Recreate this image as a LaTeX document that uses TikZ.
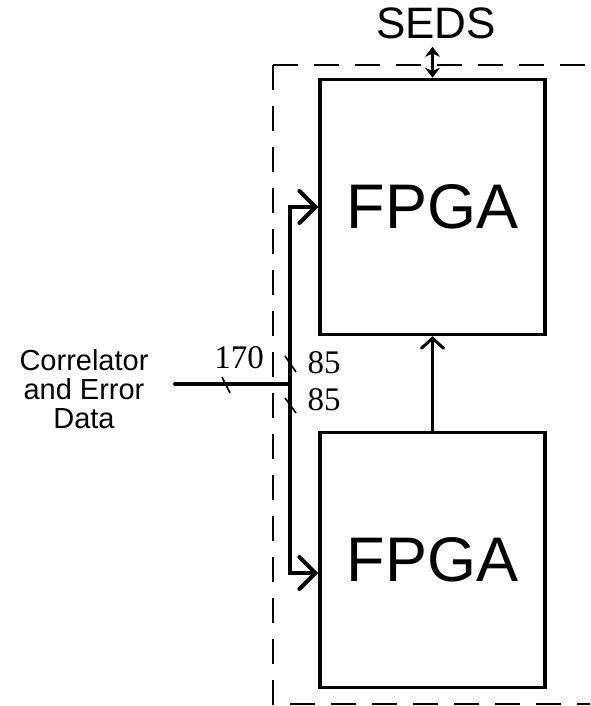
\documentclass[tikz,border=0pt]{standalone}
\usepackage{fontspec}
\setmainfont{Liberation Sans}
\newfontfamily\numfont{Liberation Serif}
\usetikzlibrary{arrows.meta}

\begin{document}
\begin{tikzpicture}[x=1pt, y=-1pt, >=Stealth,
    fpga/.style={draw, line width=3.5pt, minimum width=225pt, minimum height=255pt,
      inner sep=0pt, font=\fontsize{63}{70}\selectfont},
    boardline/.style={line width=2.8pt, dash pattern=on 25pt off 16pt},
    bus/.style={line width=4pt},
    busarrow/.style={bus, -{Straight Barb[length=16pt, width=32pt, line cap=round]}},
    tick/.style={line width=1.6pt},
    buswidth/.style={font=\numfont\fontsize{33}{35}\selectfont, inner sep=0pt}]
  \useasboundingbox (0,0) rectangle (590,706);

  \node[fpga] (fpgaTop) at (432.5,207) {FPGA};
  \node[fpga] (fpgaBot) at (432.5,560) {FPGA};
  \node[font=\fontsize{44}{48}\selectfont, inner xsep=0pt, inner ysep=8pt] (seds) at (436,23) {SEDS};
  \node[font=\fontsize{29}{29}\selectfont, align=center, inner sep=0pt, anchor=north] (input)
    at (84,349) {Correlator\\and Error\\Data};

  % dashed board outline
  \draw[boardline] (273,65) -- (590,65);
  \draw[boardline] (273,65) -- (273,704) -- (590,704);

  \coordinate (in) at (175,384);
  \coordinate (split) at (290,384);
  \coordinate (busTop) at (290,207);
  \coordinate (busBot) at (290,573);

  % data bus
  \draw[bus, line cap=round] (in) -- (split);
  \draw[busarrow] (split) -- (busTop) -- (busTop -| fpgaTop.west);
  \draw[busarrow] (split) -- (busBot) -- (busBot -| fpgaBot.west);
  \draw[tick] (222,377) -- (230,393);
  \draw[tick] (285,356) -- (296,372);
  \draw[tick] (285,398) -- (296,413);
  \node[buswidth] (w170) at (239,358) {170};
  \node[buswidth] (w85a) at (324,363) {85};
  \node[buswidth] (w85b) at (324,400) {85};

  \draw[line width=3pt, -{Straight Barb[length=10pt, width=22pt, line cap=round]}]
    (fpgaBot.north) -- (fpgaTop.south);
  \draw[line width=3pt, {Stealth[length=10pt, width=15pt]}-{Stealth[length=10pt, width=15pt]}]
    (seds.south -| fpgaTop.north) -- (fpgaTop.north);
\end{tikzpicture}
\end{document}
